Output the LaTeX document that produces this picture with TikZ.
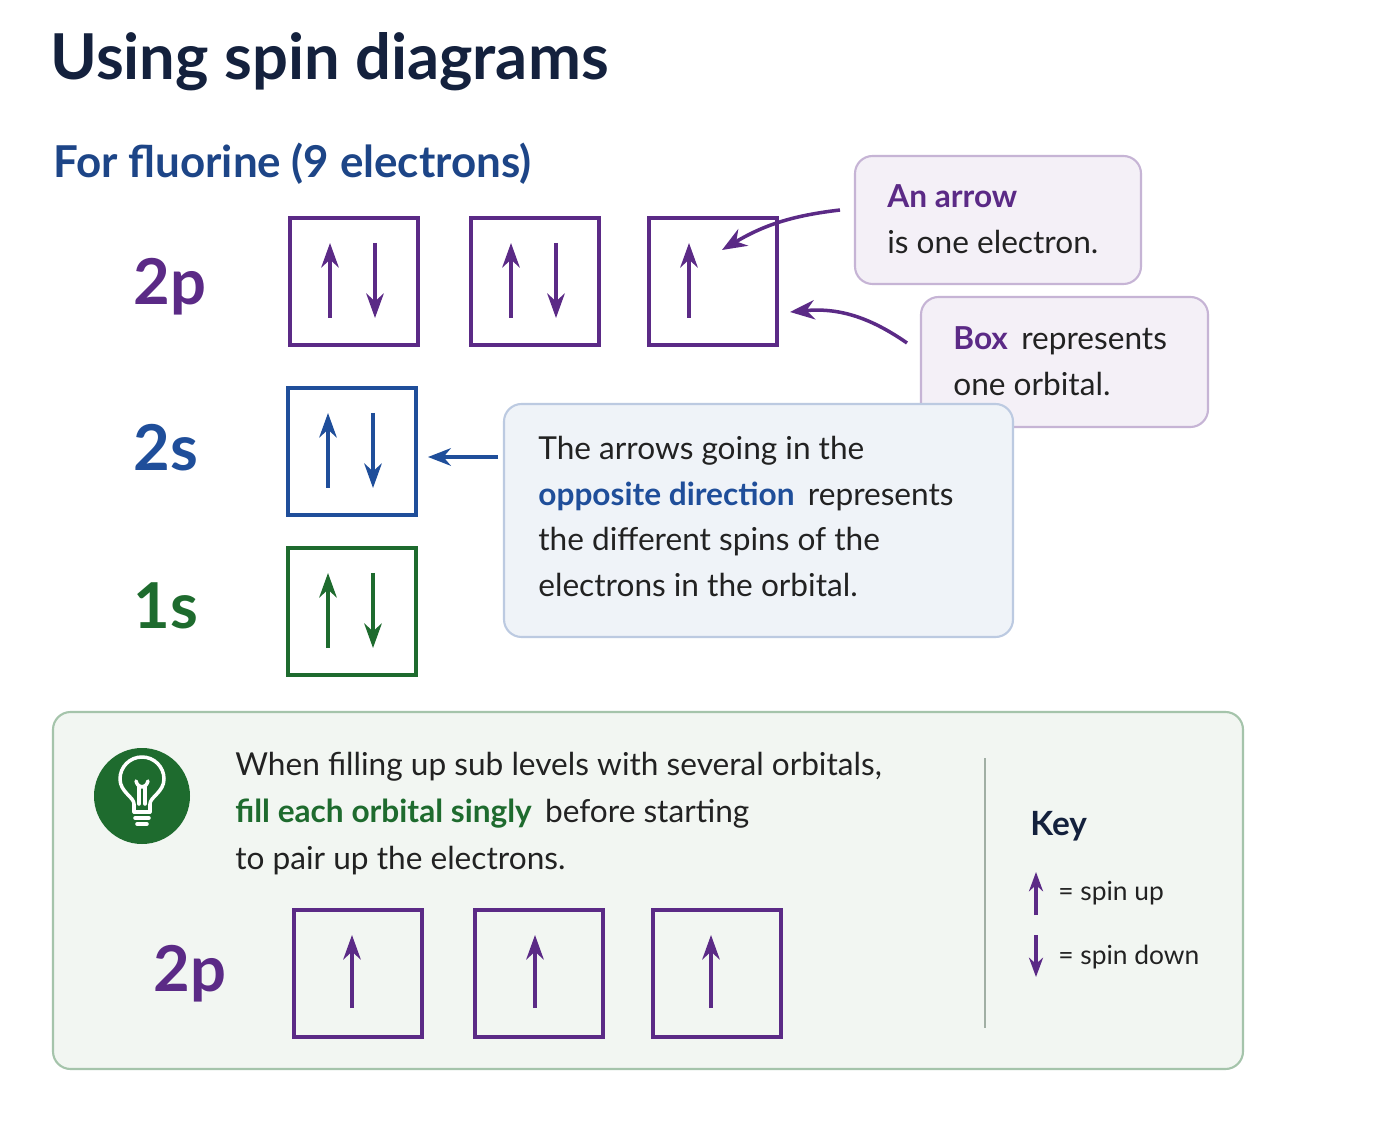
\documentclass[tikz,border=0pt]{standalone}
\usepackage{fontspec}
\setmainfont{Lato}
\usetikzlibrary{arrows.meta}
\definecolor{navy}{HTML}{14213D}
\definecolor{ink}{HTML}{222222}
\definecolor{purp}{HTML}{5B2A86}
\definecolor{blu}{HTML}{1F4E9A}
\definecolor{grn}{HTML}{1E6B2E}
\tikzset{
  orb/.style={draw, line width=1.9pt},
  spin/.style={line width=2pt, -{Stealth[length=14pt,width=10pt]}},
  txt/.style={anchor=base west, inner sep=0pt, text=ink, font=\fontsize{18}{21}\selectfont},
  lvl/.style={anchor=base west, inner sep=0pt, font=\fontsize{36}{40}\selectfont\bfseries},
  callout/.style={rounded corners=10pt, line width=1.2pt},
  pointer/.style={purp, line width=2pt, -{Stealth[length=14pt,width=11pt]}}
}
\newcommand{\orbbox}[4]{% name, x, y, colour
  \draw[orb,#4] (#2,#3) rectangle ++(128,127);
  \coordinate (#1) at (#2,#3);}
\newcommand{\spinup}[3]{\draw[spin,#3] (#1+40,#2+100) -- (#1+40,#2+25);}
\newcommand{\spindn}[3]{\draw[spin,#3] (#1+85,#2+25) -- (#1+85,#2+100);}
\begin{document}
\begin{tikzpicture}[x=0.02cm,y=-0.02cm]
\useasboundingbox[fill=white] (0,0) rectangle (1399,1124);
% headings
\node[anchor=base west, inner sep=0pt, text=navy, font=\fontsize{36}{40}\selectfont\bfseries] (title) at (50,80) {Using spin diagrams};
\node[anchor=base west, inner sep=0pt, text=blu!80!navy, font=\fontsize{25}{30}\selectfont\bfseries] (sub) at (53,178) {For fluorine (9 electrons)};
% levels
\node[lvl, text=purp] (l2p) at (133,305) {2p};
\node[lvl, text=blu] (l2s) at (133,471) {2s};
\node[lvl, text=grn] (l1s) at (133,628) {1s};
\orbbox{pa}{290}{218}{purp} \spinup{290}{218}{purp} \spindn{290}{218}{purp}
\orbbox{pb}{471}{218}{purp} \spinup{471}{218}{purp} \spindn{471}{218}{purp}
\orbbox{pc}{649}{218}{purp} \spinup{649}{218}{purp}
\orbbox{sa}{288}{388}{blu} \spinup{288}{388}{blu} \spindn{288}{388}{blu}
\orbbox{ka}{288}{548}{grn} \spinup{288}{548}{grn} \spindn{288}{548}{grn}
% callouts
\draw[callout, fill=purp!7, draw=purp!35] (855,156) rectangle (1141,284);
\node[txt, text=purp, font=\fontsize{18}{21}\selectfont\bfseries] (c1a) at (887,208) {An arrow};
\node[txt] (c1b) at (887,254) {is one electron.};
\draw[callout, fill=purp!7, draw=purp!35] (921,297) rectangle (1208,427);
\node[txt] (c2a) at (953,350) {\textcolor{purp}{\bfseries Box}\, represents};
\node[txt] (c2b) at (953,396) {one orbital.};
\draw[callout, fill=blu!7, draw=blu!30] (504,404) rectangle (1013,637);
\node[txt] (b1) at (538,460) {The arrows going in the};
\node[txt] (b2) at (538,506) {\textcolor{blu}{\bfseries opposite direction}\, represents};
\node[txt] (b3) at (538,551) {the different spins of the};
\node[txt] (b4) at (538,597) {electrons in the orbital.};
\coordinate (p1s) at (840,210); \coordinate (p1e) at (722,250);
\coordinate (p2s) at (907,343); \coordinate (p2e) at (790,312);
\coordinate (p3s) at (498,457); \coordinate (p3e) at (428,457);
\draw[pointer] (p1s) to[bend right=12] (p1e);
\draw[pointer] (p2s) to[bend right=20] (p2e);
\draw[blu, line width=2pt, -{Stealth[length=13pt,width=10pt]}] (p3s) -- (p3e);
% rule panel
\draw[callout, fill=grn!6, draw=grn!40] (53,712) rectangle (1243,1069);
\fill[grn] (142,796) circle (48);
\begin{scope}[white, line width=2pt, line cap=round, line join=round]
  \draw (134,812) -- (134,804) .. controls (134,797) and (120,792) .. (120,779)
        arc[start angle=180, end angle=360, radius=22] .. controls (164,792) and (150,797) .. (150,804) -- (150,812);
  \draw (134,812) -- (150,812);
  \draw (135,818) -- (149,818);
  \draw (137,824) -- (147,824);
  \draw (139,804) -- (139,787) (145,804) -- (145,787);
  \draw (136,781) .. controls (138,789) and (146,789) .. (148,781);
\end{scope}
\node[txt] (g1) at (235,775) {When filling up sub levels with several orbitals,};
\node[txt] (g2) at (235,822) {\textcolor{grn}{\bfseries fill each orbital singly}\, before starting};
\node[txt] (g3) at (235,869) {to pair up the electrons.};
\node[lvl, text=purp] (l2pb) at (153,991) {2p};
\orbbox{qa}{294}{910}{purp} \draw[spin,purp] (352,1008) -- (352,935);
\orbbox{qb}{475}{910}{purp} \draw[spin,purp] (535,1008) -- (535,935);
\orbbox{qc}{653}{910}{purp} \draw[spin,purp] (711,1008) -- (711,935);
% key
\draw[grn!30!gray!60, line width=1.2pt] (985,758) -- (985,1028);
\node[txt, text=navy, font=\fontsize{19}{22}\selectfont\bfseries] (key) at (1030,835) {Key};
\draw[purp, line width=1.8pt, -{Stealth[length=11pt,width=8pt]}] (1036,915) -- (1036,872);
\draw[purp, line width=1.8pt, -{Stealth[length=11pt,width=8pt]}] (1036,935) -- (1036,977);
\node[txt, font=\fontsize{15}{18}\selectfont] (kup) at (1058,900) {= spin up};
\node[txt, font=\fontsize{15}{18}\selectfont] (kdn) at (1058,964) {= spin down};
\end{tikzpicture}
\end{document}
